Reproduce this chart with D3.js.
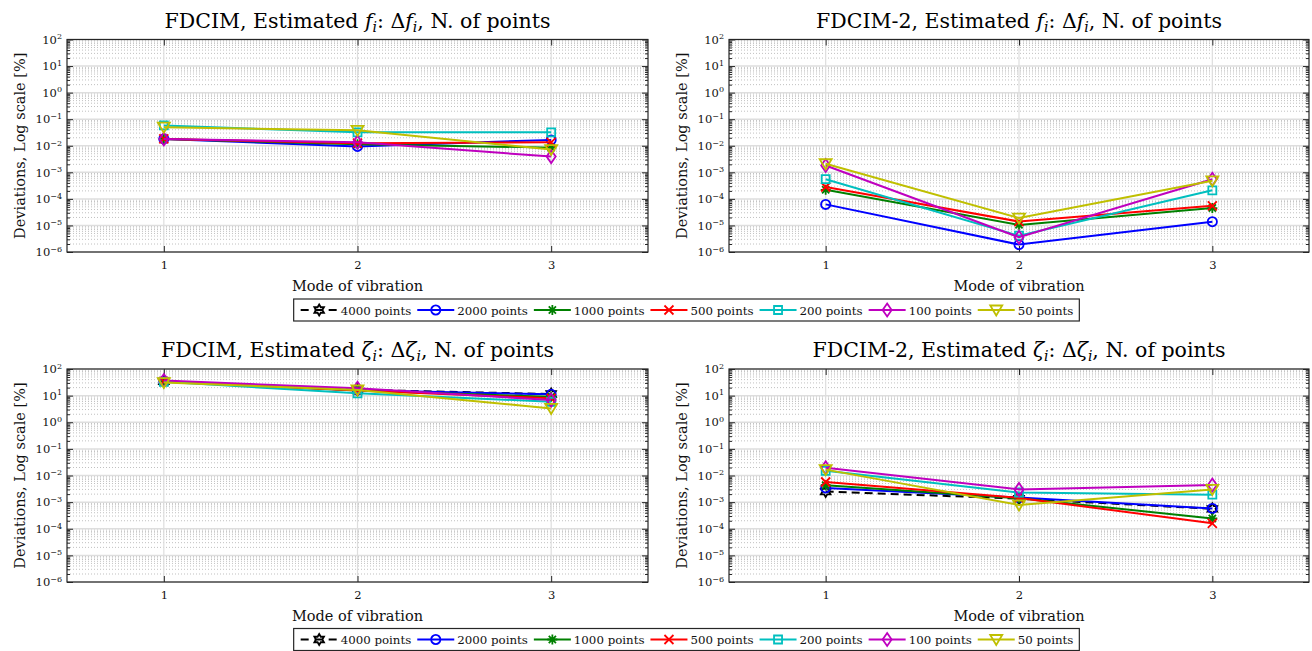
<!DOCTYPE html>
<html>
<head>
<meta charset="utf-8">
<script src="https://cdn.jsdelivr.net/npm/d3@7"></script>
<style>
  body { margin: 0; background: #fff; }
  svg { font-family: "DejaVu Serif", serif; }
</style>
</head>
<body>
<svg id="fig" width="1312" height="651"></svg>
<script>
// modes of vibration on the x axis
var modes = [1, 2, 3];

// series (one line per number of points)
var seriesNames   = ["4000 points", "2000 points", "1000 points", "500 points", "200 points", "100 points", "50 points"];
var seriesColors  = ["#000000", "#0000ff", "#008000", "#ff0000", "#00bfbf", "#bf00bf", "#bfbf00"];
var seriesMarkers = ["hexagram", "circle", "asterisk", "cross", "square", "diamond", "triangleDown"];
var seriesDashed  = [true, false, false, false, false, false, false];

// y ticks, log scale decades
var decadeExps = [-6, -5, -4, -3, -2, -1, 0, 1, 2];

// deviations [%], one row per series, columns = mode 1,2,3
// (4000 points is not drawn on the frequency panels)
var fdcimFreq = [
  [null, null, null],
  [0.018, 0.0094, 0.0166],
  [0.018, 0.0115, 0.0085],
  [0.018, 0.0125, 0.0135],
  [0.058, 0.032, 0.032],
  [0.018, 0.0136, 0.0039],
  [0.050, 0.038, 0.0072]
];
var fdcim2Freq = [
  [null, null, null],
  [0.000062, 0.0000019, 0.0000138],
  [0.00022, 0.0000105, 0.000045],
  [0.00028, 0.000014, 0.000055],
  [0.00055, 0.0000041, 0.00021],
  [0.0018, 0.0000036, 0.00055],
  [0.0021, 0.000019, 0.00048]
];
var fdcimDamp = [
  [34, 16.5, 11.5],
  [35, 16, 11.2],
  [34, 15.5, 9],
  [34, 15.5, 7.9],
  [33, 12.2, 5.9],
  [37, 18.8, 6.8],
  [31, 16.3, 3.3]
];
var fdcim2Damp = [
  [0.0025, 0.00135, 0.00056],
  [0.0034, 0.0015, 0.00058],
  [0.0043, 0.0014, 0.000244],
  [0.0057, 0.00144, 0.00016],
  [0.015, 0.0023, 0.0019],
  [0.0195, 0.003, 0.0044],
  [0.0166, 0.00078, 0.003]
];

var svg = d3.select("#fig");
var ink = "#262626";

var panels = [
  {method: "FDCIM",   sym: "f", values: fdcimFreq,  x0: 67,  x1: 648,  y0: 39.5, y1: 252, titleY: 28},
  {method: "FDCIM-2", sym: "f", values: fdcim2Freq, x0: 729, x1: 1309, y0: 39.5, y1: 252, titleY: 28},
  {method: "FDCIM",   sym: "ζ", values: fdcimDamp,  x0: 67,  x1: 648,  y0: 369,  y1: 582, titleY: 357},
  {method: "FDCIM-2", sym: "ζ", values: fdcim2Damp, x0: 729, x1: 1309, y0: 369,  y1: 582, titleY: 357}
];

function markerPath(type) {
  var p = d3.path();
  if (type == "circle") {
    var r = 4.6;
    p.moveTo(r, 0); p.arc(0, 0, r, 0, 2 * Math.PI);
  } else if (type == "square") {
    p.rect(-4, -4, 8, 8);
  } else if (type == "diamond") {
    p.moveTo(0, -6.5); p.lineTo(4.5, 0); p.lineTo(0, 6.5); p.lineTo(-4.5, 0); p.closePath();
  } else if (type == "triangleDown") {
    p.moveTo(-6, -4.5); p.lineTo(6, -4.5); p.lineTo(0, 5.5); p.closePath();
  } else if (type == "cross") {
    var c = 4.5;
    p.moveTo(-c, -c); p.lineTo(c, c); p.moveTo(-c, c); p.lineTo(c, -c);
  } else if (type == "asterisk") {
    var a = 5, b = 3.6;
    p.moveTo(-a, 0); p.lineTo(a, 0); p.moveTo(0, -a); p.lineTo(0, a);
    p.moveTo(-b, -b); p.lineTo(b, b); p.moveTo(-b, b); p.lineTo(b, -b);
  } else if (type == "hexagram") {
    var R = 5.5, ri = R / Math.sqrt(3);
    for (var k = 0; k < 12; k++) {
      var ang = -Math.PI / 2 + k * Math.PI / 6;
      var rr = k % 2 == 0 ? R : ri;
      if (k == 0) p.moveTo(rr * Math.cos(ang), rr * Math.sin(ang));
      else p.lineTo(rr * Math.cos(ang), rr * Math.sin(ang));
    }
    p.closePath();
  }
  return p.toString();
}

function drawPanel(pn) {
  var g = svg.append("g");
  var x = d3.scaleLinear().domain([0.5, 3.5]).range([pn.x0, pn.x1]);
  var y = d3.scaleLog().domain([1e-6, 1e2]).range([pn.y1, pn.y0]);

  var decades = decadeExps.map(function(e) { return Math.pow(10, e); });
  var minors = [];
  decadeExps.slice(0, -1).forEach(function(e) {
    for (var m = 2; m <= 9; m++) minors.push(m * Math.pow(10, e));
  });

  // grid
  var grid = g.append("g");
  grid.selectAll(".minor").data(minors).enter().append("line")
    .attr("x1", pn.x0).attr("x2", pn.x1)
    .attr("y1", function(d) { return y(d); }).attr("y2", function(d) { return y(d); })
    .attr("stroke", "#c0c0c0").attr("stroke-width", 1).attr("stroke-dasharray", "1,2");
  grid.selectAll(".major").data(decades).enter().append("line")
    .attr("x1", pn.x0).attr("x2", pn.x1)
    .attr("y1", function(d) { return y(d); }).attr("y2", function(d) { return y(d); })
    .attr("stroke", "#dedede").attr("stroke-width", 1.5);
  grid.selectAll(".vert").data(modes).enter().append("line")
    .attr("x1", function(d) { return x(d); }).attr("x2", function(d) { return x(d); })
    .attr("y1", pn.y0).attr("y2", pn.y1)
    .attr("stroke", "#dedede").attr("stroke-width", 1.2);

  // axes
  var axL = g.append("g").attr("transform", "translate(" + pn.x0 + ",0)")
    .call(d3.axisLeft(y).tickValues(decades).tickSizeInner(-6).tickSizeOuter(0).tickPadding(5));
  axL.selectAll(".tick text").each(function(d) {
    var e = Math.round(Math.log10(d));
    var t = d3.select(this).text("");
    t.append("tspan").text("10");
    t.append("tspan").attr("dy", "-0.55em").attr("font-size", "8px")
      .text(e < 0 ? "\u2212" + (-e) : String(e));
  });
  g.append("g").attr("transform", "translate(" + pn.x0 + ",0)")
    .call(d3.axisLeft(y).tickValues(minors).tickSizeInner(-3).tickSizeOuter(0).tickFormat(""));
  g.append("g").attr("transform", "translate(" + pn.x1 + ",0)")
    .call(d3.axisRight(y).tickValues(decades).tickSizeInner(-6).tickSizeOuter(0).tickFormat(""));
  g.append("g").attr("transform", "translate(" + pn.x1 + ",0)")
    .call(d3.axisRight(y).tickValues(minors).tickSizeInner(-3).tickSizeOuter(0).tickFormat(""));
  g.append("g").attr("transform", "translate(0," + pn.y1 + ")")
    .call(d3.axisBottom(x).tickValues(modes).tickSizeInner(-6).tickSizeOuter(0).tickPadding(9).tickFormat(d3.format("d")));
  g.append("g").attr("transform", "translate(0," + pn.y0 + ")")
    .call(d3.axisTop(x).tickValues(modes).tickSizeInner(-6).tickSizeOuter(0).tickFormat(""));

  g.selectAll(".domain").remove();
  g.selectAll(".tick line").attr("stroke", ink);
  g.selectAll(".tick text").attr("fill", "#111").attr("font-family", "DejaVu Serif").attr("font-size", "11.5px");

  g.append("rect")
    .attr("x", pn.x0).attr("y", pn.y0)
    .attr("width", pn.x1 - pn.x0).attr("height", pn.y1 - pn.y0)
    .attr("fill", "none").attr("stroke", ink).attr("stroke-width", 1.2);

  // series
  var line = d3.line()
    .defined(function(d) { return d != null; })
    .x(function(d, i) { return x(modes[i]); })
    .y(function(d) { return y(d); });
  pn.values.forEach(function(vals, s) {
    g.append("path").attr("d", line(vals))
      .attr("fill", "none").attr("stroke", seriesColors[s]).attr("stroke-width", 2)
      .attr("stroke-dasharray", seriesDashed[s] ? "8,5" : null);
    g.selectAll(".mk" + s).data(vals.map(function(v, i) { return {v: v, m: modes[i]}; })
        .filter(function(d) { return d.v != null; }))
      .enter().append("path")
      .attr("d", markerPath(seriesMarkers[s]))
      .attr("transform", function(d) { return "translate(" + x(d.m) + "," + y(d.v) + ")"; })
      .attr("fill", "none").attr("stroke", seriesColors[s]).attr("stroke-width", 1.8);
  });

  // title
  var cx = (pn.x0 + pn.x1) / 2;
  var tt = g.append("text").attr("x", cx).attr("y", pn.titleY)
    .attr("text-anchor", "middle").attr("font-size", "20.5px").attr("fill", "#000");
  tt.append("tspan").text(pn.method + ", Estimated ");
  tt.append("tspan").attr("font-style", "italic").text(pn.sym);
  tt.append("tspan").attr("font-style", "italic").attr("font-size", "14px").attr("dy", 4).text("i");
  tt.append("tspan").attr("dy", -4).text(": \u0394");
  tt.append("tspan").attr("font-style", "italic").text(pn.sym);
  tt.append("tspan").attr("font-style", "italic").attr("font-size", "14px").attr("dy", 4).text("i");
  tt.append("tspan").attr("dy", -4).text(", N. of points");

  // axis labels
  g.append("text").attr("x", cx).attr("y", pn.y1 + 38.5)
    .attr("text-anchor", "middle").attr("font-size", "14.5px").attr("fill", "#111")
    .text("Mode of vibration");
  g.append("text")
    .attr("transform", "translate(" + (pn.x0 - 42) + "," + ((pn.y0 + pn.y1) / 2) + ") rotate(-90)")
    .attr("text-anchor", "middle").attr("font-size", "14.5px").attr("fill", "#111")
    .text("Deviations, Log scale [%]");
}

function drawLegend(cy) {
  var g = svg.append("g");
  var sample = 37;
  var xx = 0;
  seriesNames.forEach(function(name, s) {
    var it = g.append("g").attr("transform", "translate(" + xx + "," + cy + ")");
    it.append("line").attr("x1", 0).attr("x2", sample).attr("y1", 0).attr("y2", 0)
      .attr("stroke", seriesColors[s]).attr("stroke-width", 2)
      .attr("stroke-dasharray", seriesDashed[s] ? "8,6" : null);
    it.append("path").attr("d", markerPath(seriesMarkers[s]))
      .attr("transform", "translate(" + sample / 2 + ",0)")
      .attr("fill", "none").attr("stroke", seriesColors[s]).attr("stroke-width", 1.8);
    var t = it.append("text").attr("x", sample + 3).attr("y", 4.5)
      .attr("font-size", "11.8px").attr("fill", "#111").text(name);
    xx += sample + 3 + t.node().getComputedTextLength() + 6;
  });
  var total = xx - 6;
  var left = 687 - total / 2;
  g.attr("transform", "translate(" + left + ",0)");
  g.insert("rect", ":first-child")
    .attr("x", -7).attr("y", cy - 11).attr("width", total + 13).attr("height", 22)
    .attr("fill", "#fff").attr("stroke", ink).attr("stroke-width", 1.2);
}

panels.forEach(drawPanel);
drawLegend(310);
drawLegend(639.5);
</script>
</body>
</html>
